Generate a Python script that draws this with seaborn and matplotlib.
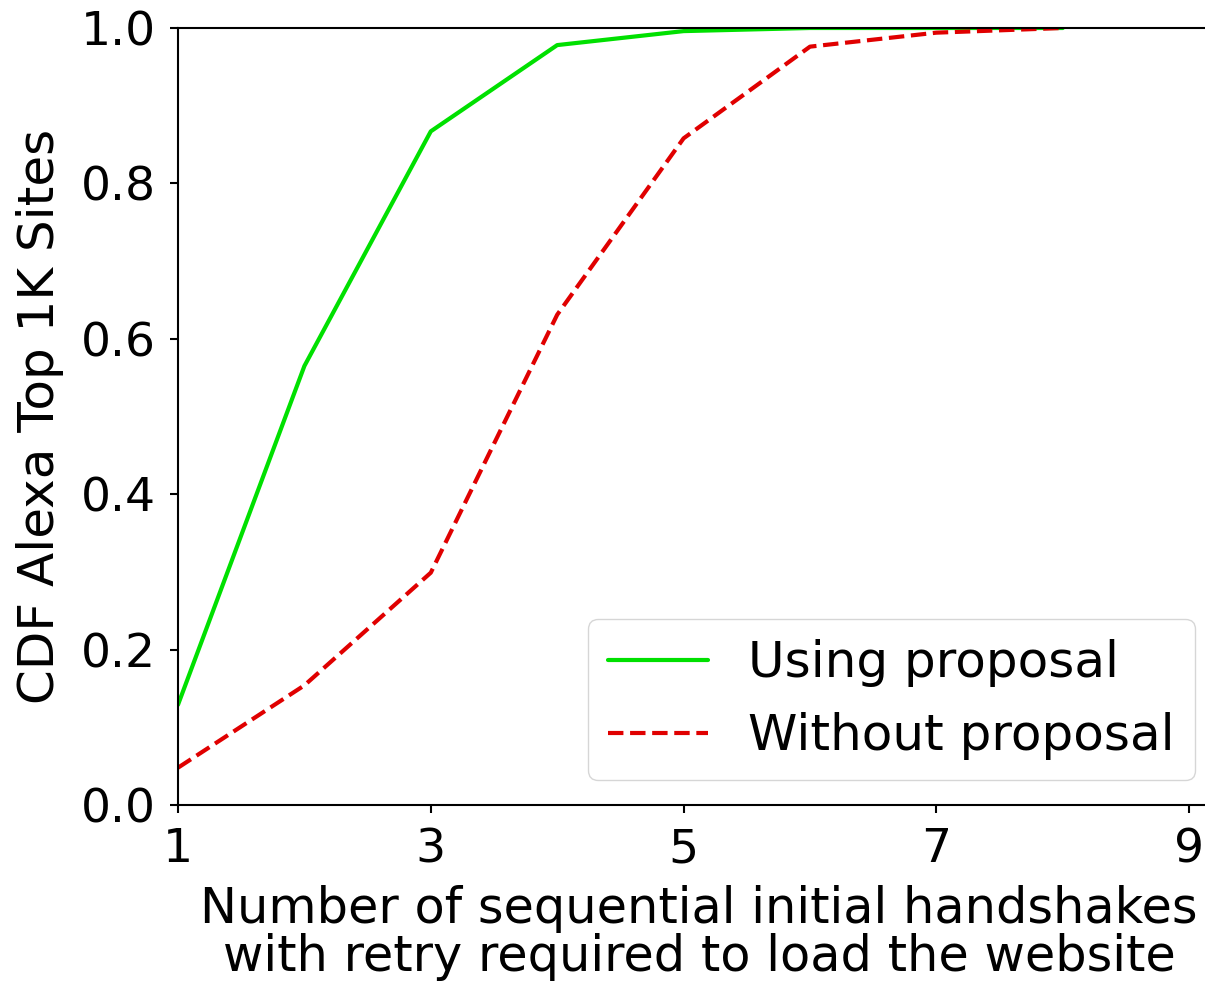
import numpy as np
import pandas as pd
import seaborn as sns
import matplotlib
matplotlib.use("Agg")
import matplotlib.pyplot as plt

handshakes = [1, 2, 3, 4, 5, 6, 7, 8]
cdf_with = [0.129, 0.565, 0.867, 0.978, 0.996, 1.0, 1.0, 1.0]
cdf_without = [0.048, 0.154, 0.299, 0.631, 0.858, 0.976, 0.994, 1.0]

sns.set_style("ticks")
plt.rcParams['font.family'] = ['DejaVu Sans']
plt.rcParams['text.color'] = 'black'
plt.rcParams['axes.labelcolor'] = 'black'
plt.rcParams['xtick.color'] = 'black'
plt.rcParams['ytick.color'] = 'black'

fig = plt.figure(figsize=(12.05, 9.86), dpi=100)
ax = fig.add_axes([178 / 1205, 1 - 805 / 986, (1220 - 178) / 1205, 777 / 986])

sns.lineplot(x=handshakes, y=cdf_with, ax=ax, color='#00e000', lw=3,
             label='Using proposal')
sns.lineplot(x=handshakes, y=cdf_without, ax=ax, color='#e00000', lw=3,
             linestyle='--', label='Without proposal')

ax.set_xlim(1, 1 + (1220 - 178) / 126.4)
ax.set_ylim(0, 1.0)
ax.set_xticks([1, 3, 5, 7, 9])
ax.set_yticks([0.0, 0.2, 0.4, 0.6, 0.8, 1.0])
ax.tick_params(labelsize=34, width=1.5, length=6, pad=10, color='black')
ax.spines['right'].set_visible(False)
for s in ['left', 'bottom', 'top']:
    ax.spines[s].set_linewidth(1.5)
    ax.spines[s].set_color('black')
ax.set_xlabel('Number of sequential initial handshakes\nwith retry required to load the website',
              fontsize=35.6, labelpad=9, linespacing=1.0)
ax.set_ylabel('CDF Alexa Top 1K Sites', fontsize=36, labelpad=12)
ax.legend(loc='lower right', fontsize=36, frameon=True)

fig.savefig('out.png', dpi=100)
